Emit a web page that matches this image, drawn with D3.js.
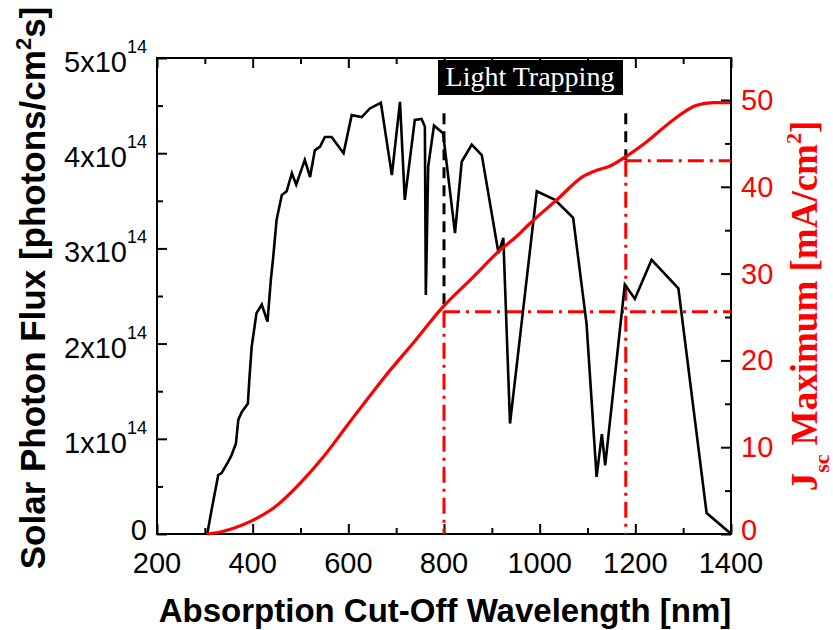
<!DOCTYPE html>
<html>
<head>
<meta charset="utf-8">
<script src="https://cdn.jsdelivr.net/npm/d3@7"></script>
<style>
  body { margin: 0; background: #fff; }
  svg { display: block; }
  .sans { font-family: "Liberation Sans", Arial, Helvetica, sans-serif; }
  .serif { font-family: "Liberation Serif", "Times New Roman", serif; }
</style>
</head>
<body>
<div id="chart"></div>
<script>
// black spectrum: wavelength (nm) and photon flux (x10^14 photons/cm2 s)
var fluxWl = [305, 314, 328, 335, 349, 356, 365, 370, 377, 390, 393, 398, 408, 419, 431, 438,
  443, 450, 461, 471, 482, 491, 509, 520, 530, 541, 551, 565, 590, 607, 628, 645, 668, 691,
  708, 718, 739, 753, 760, 762, 767, 779, 798, 823, 837, 858, 879, 914, 924, 938, 994, 1032,
  1070, 1098, 1119, 1130, 1137, 1178, 1199, 1234, 1290, 1349, 1398];
var fluxVal = [0, 0.25, 0.62, 0.64, 0.76, 0.83, 0.95, 1.20, 1.28, 1.37, 1.62, 1.97, 2.32, 2.41, 2.23, 2.67,
  2.91, 3.30, 3.56, 3.60, 3.79, 3.67, 3.93, 3.75, 4.03, 4.07, 4.17, 4.17, 4.00, 4.40, 4.38, 4.47, 4.53, 3.77,
  4.54, 3.51, 4.35, 4.36, 4.28, 2.51, 3.86, 4.29, 4.21, 3.16, 3.91, 4.09, 3.98, 2.95, 3.11, 1.16, 3.60, 3.51,
  3.32, 2.21, 0.60, 1.05, 0.72, 2.62, 2.47, 2.88, 2.58, 0.22, 0.01];

// red curve: maximum Jsc (mA/cm2) vs cut-off wavelength
var jscWl = [304, 330, 360, 401, 443, 499, 548, 603, 673, 743, 795, 861, 917, 952, 980, 1036,
  1091, 1119, 1147, 1175, 1224, 1279, 1328, 1363, 1398];
var jscVal = [0, 0.2, 0.66, 1.6, 2.96, 5.84, 8.9, 12.9, 17.9, 22.5, 26.0, 29.6, 32.7, 34.3, 35.8, 38.5,
  41.2, 41.9, 42.4, 43.3, 45.2, 47.7, 49.4, 49.7, 49.7];

// light trapping markers
var trapWl = [800, 1180];
var trapJsc = [25.6, 43.0];
var trapTop = 4.42;

var xMajor = [200, 400, 600, 800, 1000, 1200, 1400];
var xMinor = [300, 500, 700, 900, 1100, 1300];
var leftMajor = [0, 1, 2, 3, 4, 5];
var leftMinor = [0.5, 1.5, 2.5, 3.5, 4.5];
var rightMajor = [0, 10, 20, 30, 40, 50];
var rightMinor = [5, 15, 25, 35, 45];

var W = 833, H = 630;
var m = {left: 157, top: 58, right: 731, bottom: 534};

var svg = d3.select('#chart').append('svg')
  .attr('width', W)
  .attr('height', H);

var x = d3.scaleLinear().domain([200, 1400]).range([m.left, m.right]);
var yL = d3.scaleLinear().domain([0, 5]).range([m.bottom, m.top]);
var yR = d3.scaleLinear().domain([0, 50]).range([m.bottom, 100]);

var red = '#ff0000';

// ticks (inward) on all four sides
function tickAxis(axis, vals, size, tr) {
  var g = svg.append('g').attr('transform', tr)
    .call(axis.tickValues(vals).tickSize(size).tickFormat(''));
  g.select('.domain').remove();
  g.selectAll('line').attr('stroke', '#000').attr('stroke-width', 2);
}
tickAxis(d3.axisBottom(x), xMajor, -10, 'translate(0,' + m.bottom + ')');
tickAxis(d3.axisBottom(x), xMinor, -6, 'translate(0,' + m.bottom + ')');
tickAxis(d3.axisTop(x), xMajor, -10, 'translate(0,' + m.top + ')');
tickAxis(d3.axisTop(x), xMinor, -6, 'translate(0,' + m.top + ')');
tickAxis(d3.axisLeft(yL), leftMajor, -10, 'translate(' + m.left + ',0)');
tickAxis(d3.axisLeft(yL), leftMinor, -6, 'translate(' + m.left + ',0)');
tickAxis(d3.axisRight(yR), rightMajor, -10, 'translate(' + m.right + ',0)');
tickAxis(d3.axisRight(yR), rightMinor, -6, 'translate(' + m.right + ',0)');

svg.append('rect')
  .attr('x', m.left).attr('y', m.top)
  .attr('width', m.right - m.left).attr('height', m.bottom - m.top)
  .attr('fill', 'none').attr('stroke', '#000').attr('stroke-width', 2);

// bottom tick labels
svg.selectAll('text.xlab').data(xMajor).enter()
  .append('text')
  .attr('class', 'xlab sans')
  .attr('x', function(d) { return x(d); })
  .attr('y', 573)
  .attr('text-anchor', 'middle')
  .attr('font-size', 29)
  .text(function(d) { return d; });

// left tick labels with superscripts
var ll = svg.selectAll('text.ylab').data(leftMajor).enter()
  .append('text')
  .attr('class', 'ylab sans')
  .attr('x', 147)
  .attr('y', function(d) { return d == 0 ? yL(d) + 6 : yL(d) + 14; })
  .attr('text-anchor', 'end')
  .attr('font-size', 29);
ll.append('tspan').text(function(d) { return d == 0 ? '0' : d + 'x10'; });
ll.filter(function(d) { return d != 0; })
  .append('tspan')
  .attr('dy', -19)
  .attr('font-size', 18)
  .text('14');

// right tick labels
svg.selectAll('text.rlab').data(rightMajor).enter()
  .append('text')
  .attr('class', 'rlab sans')
  .attr('x', 741)
  .attr('y', function(d) { return d == 0 ? yR(d) + 6 : yR(d) + 10; })
  .attr('fill', red)
  .attr('font-size', 29)
  .text(function(d) { return d; });

// light trapping guides
var dashDot = '16,6,3,6';
trapWl.forEach(function(w, i) {
  svg.append('line')
    .attr('x1', x(w)).attr('x2', x(w))
    .attr('y1', yL(trapTop)).attr('y2', yR(trapJsc[i]))
    .attr('stroke', '#000').attr('stroke-width', 3)
    .attr('stroke-dasharray', '11,7');
  svg.append('line')
    .attr('x1', x(w)).attr('x2', x(w))
    .attr('y1', yR(trapJsc[i])).attr('y2', m.bottom)
    .attr('stroke', red).attr('stroke-width', 3)
    .attr('stroke-dasharray', dashDot);
  svg.append('line')
    .attr('x1', x(w)).attr('x2', m.right)
    .attr('y1', yR(trapJsc[i])).attr('y2', yR(trapJsc[i]))
    .attr('stroke', red).attr('stroke-width', 3)
    .attr('stroke-dasharray', dashDot);
});

// spectrum
var fluxData = fluxWl.map(function(w, i) { return [w, fluxVal[i]]; });
svg.append('path')
  .datum(fluxData)
  .attr('fill', 'none')
  .attr('stroke', '#000')
  .attr('stroke-width', 2.6)
  .attr('stroke-linejoin', 'miter')
  .attr('d', d3.line()
    .x(function(d) { return x(d[0]); })
    .y(function(d) { return yL(d[1]); }));

// Jsc curve
var jscData = jscWl.map(function(w, i) { return [w, jscVal[i]]; });
svg.append('path')
  .datum(jscData)
  .attr('fill', 'none')
  .attr('stroke', red)
  .attr('stroke-width', 3.2)
  .attr('d', d3.line()
    .curve(d3.curveMonotoneX)
    .x(function(d) { return x(d[0]); })
    .y(function(d) { return yR(d[1]); }));

// "Light Trapping" box
svg.append('rect')
  .attr('x', 438).attr('y', 60)
  .attr('width', 185).attr('height', 35)
  .attr('fill', '#000');
svg.append('text')
  .attr('class', 'serif')
  .attr('x', 530).attr('y', 86)
  .attr('text-anchor', 'middle')
  .attr('fill', '#fff')
  .attr('font-size', 28)
  .text('Light Trapping');

// axis titles
svg.append('text')
  .attr('class', 'sans')
  .attr('x', 445).attr('y', 622)
  .attr('text-anchor', 'middle')
  .attr('font-size', 33)
  .attr('font-weight', 'bold')
  .text('Absorption Cut-Off Wavelength [nm]');

var lt = svg.append('text')
  .attr('class', 'sans')
  .attr('transform', 'translate(45,288) rotate(-90)')
  .attr('text-anchor', 'middle')
  .attr('font-size', 35)
  .attr('font-weight', 'bold');
lt.append('tspan').text('Solar Photon Flux [photons/cm');
lt.append('tspan').attr('dy', -14).attr('font-size', 22).text('2');
lt.append('tspan').attr('dy', 14).text('s]');

var rt = svg.append('text')
  .attr('class', 'serif')
  .attr('transform', 'translate(817,306) rotate(-90)')
  .attr('text-anchor', 'middle')
  .attr('fill', red)
  .attr('font-size', 37)
  .attr('font-weight', 'bold');
rt.append('tspan').text('J');
rt.append('tspan').attr('dy', 12).attr('font-size', 22).text('sc');
rt.append('tspan').attr('dy', -12).text(' Maximum [mA/cm');
rt.append('tspan').attr('dy', -16).attr('font-size', 22).text('2');
rt.append('tspan').attr('dy', 16).text(']');
</script>
</body>
</html>
